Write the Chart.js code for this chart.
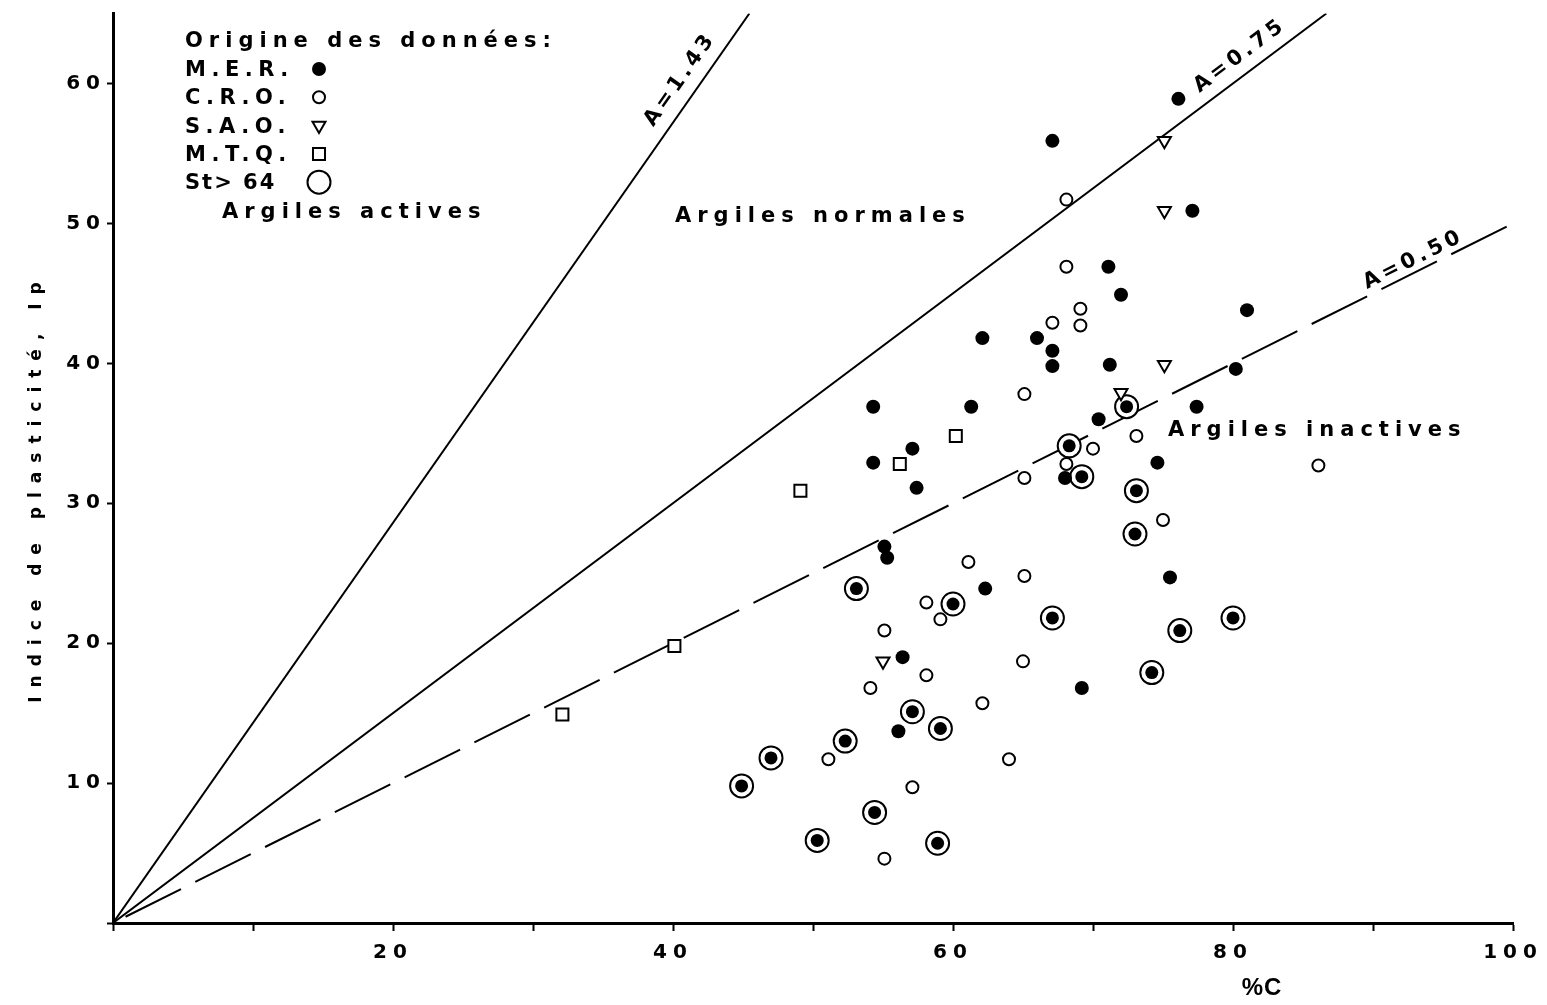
<!DOCTYPE html>
<html lang="fr">
<head>
<meta charset="utf-8">
<title>Indice de plasticité en fonction de %C</title>
<script src="https://cdn.jsdelivr.net/npm/chart.js@4.4.1/dist/chart.umd.min.js"></script>
<style>
  html, body { margin: 0; padding: 0; background: #fff; }
  #wrap { position: relative; width: 1547px; height: 1005px; }
</style>
</head>
<body>
<div id="wrap"><canvas id="chart"></canvas></div>
<script>
// --- data (x = %C, y = Ip) ---

// M.E.R. (filled dots)
const merX = [67.1, 76.1, 77.1, 71.1, 72.0, 81.0, 62.1, 66.0, 67.1, 67.1, 71.2, 80.2, 54.3, 61.3, 77.4, 70.4, 57.1, 54.3, 74.6, 57.4, 68.0, 55.1, 55.3, 75.5, 62.3, 56.4, 69.2, 56.1];
const merY = [55.9, 58.9, 50.9, 46.9, 44.9, 43.8, 41.8, 41.8, 40.9, 39.8, 39.9, 39.6, 36.9, 36.9, 36.9, 36.0, 33.9, 32.9, 32.9, 31.1, 31.8, 26.9, 26.1, 24.7, 23.9, 19.0, 16.8, 13.7];

// M.E.R. samples with St > 64 (ringed dots)
const stX = [72.4, 68.3, 69.2, 73.1, 73.0, 53.1, 60.0, 67.1, 76.2, 80.0, 74.2, 57.1, 59.1, 47.0, 52.3, 44.9, 54.4, 50.3, 58.9];
const stY = [36.9, 34.1, 31.9, 30.9, 27.8, 23.9, 22.8, 21.8, 20.9, 21.8, 17.9, 15.1, 13.9, 11.8, 13.0, 9.8, 7.9, 5.9, 5.7];

// C.R.O. (open circles)
const croX = [68.1, 68.1, 69.1, 69.1, 67.1, 65.1, 73.1, 70.0, 68.1, 65.1, 86.1, 75.0, 61.1, 65.1, 58.1, 59.1, 55.1, 65.0, 58.1, 54.1, 62.1, 51.1, 64.0, 57.1, 55.1];
const croY = [51.7, 46.9, 43.9, 42.7, 42.9, 37.8, 34.8, 33.9, 32.8, 31.8, 32.7, 28.8, 25.8, 24.8, 22.9, 21.7, 20.9, 18.7, 17.7, 16.8, 15.7, 11.7, 11.7, 9.7, 4.6];

// S.A.O. (open triangles)
const saoX = [75.1, 75.1, 75.1, 72.0, 55.0];
const saoY = [55.9, 50.9, 39.9, 37.9, 18.7];

// M.T.Q. (open squares)
const mtqX = [49.1, 60.2, 56.2, 40.1, 32.1];
const mtqY = [30.9, 34.8, 32.8, 19.8, 14.9];

// activity lines Ip = A * %C
const slopes = [1.43, 0.75, 0.50];
const slopeLabels = ['A=1.43', 'A=0.75', 'A=0.50'];

const xTickLabels = [20, 40, 60, 80, 100];
const yTickLabels = [10, 20, 30, 40, 50, 60];
const legendLabels = ['M.E.R.', 'C.R.O.', 'S.A.O.', 'M.T.Q.', 'St> 64'];
const zoneLabels = ['Argiles actives', 'Argiles normales', 'Argiles inactives'];

// --- styling ---
const X_MAX = 100, Y_MAX = 65;
const FONT = '"DejaVu Sans", "Liberation Sans", sans-serif';

const markers = {
    mer:  { pointStyle: 'circle',   radius: 7,    rotation: 0,   borderWidth: 0, fill: '#000' },
    cro:  { pointStyle: 'circle',   radius: 6,    rotation: 0,   borderWidth: 2, fill: '#fff' },
    sao:  { pointStyle: 'triangle', radius: 7.5,  rotation: 180, borderWidth: 2, fill: '#fff' },
    mtq:  { pointStyle: 'rect',     radius: 8.5,  rotation: 0,   borderWidth: 2, fill: '#fff' },
    st:   { pointStyle: 'circle',   radius: 11.5, rotation: 0,   borderWidth: 2, fill: '#fff' }
};
const legendOrder = ['mer', 'cro', 'sao', 'mtq', 'st'];

// where the label sits along each line (in %C) and how far above it
const slopeLabelPos = [ { at: 41.5, off: 19 }, { at: 81.1, off: 18 }, { at: 93.1, off: 12 } ];
const zoneLabelPos = [ { x: 222, y: 218 }, { x: 675, y: 222 }, { x: 1168, y: 436 } ];

const pts = (xs, ys) => xs.map((v, i) => ({ x: v, y: ys[i] }));

function lineData(a) {
    const xEnd = Math.min(X_MAX, Y_MAX / a);
    return [{ x: 0, y: 0 }, { x: xEnd, y: a * xEnd }];
}

function scatterSet(label, data, m, order) {
    return {
        label, data, order,
        pointStyle: m.pointStyle,
        pointRadius: m.radius,
        pointHoverRadius: m.radius,
        pointRotation: m.rotation,
        pointBorderWidth: m.borderWidth,
        pointHoverBorderWidth: m.borderWidth,
        pointBackgroundColor: m.fill,
        pointBorderColor: '#000'
    };
}

const lineSets = slopes.map((a, i) => ({
    label: slopeLabels[i],
    data: lineData(a),
    showLine: true,
    borderColor: '#000',
    borderWidth: 2,
    borderDash: i === 2 ? [62, 16] : [],
    borderDashOffset: i === 2 ? 64 : 0,
    pointRadius: 0,
    pointHoverRadius: 0,
    order: 10
}));

function spaced(ctx, str, x, y, size, ls, align) {
    ctx.font = 'bold ' + size + 'px ' + FONT;
    ctx.letterSpacing = ls + 'px';
    ctx.textAlign = align || 'left';
    ctx.fillText(str, x, y);
}

function drawMarker(ctx, m, x, y) {
    ctx.save();
    ctx.fillStyle = m.fill;
    ctx.strokeStyle = '#000';
    ctx.lineWidth = m.borderWidth;
    Chart.helpers.drawPoint(ctx, { pointStyle: m.pointStyle, radius: m.radius, rotation: m.rotation, borderWidth: m.borderWidth }, x, y);
    ctx.restore();
}

// texts, legend block and line labels
const annotations = {
    id: 'annotations',
    beforeDraw(chart) {
        chart.ctx.letterSpacing = '6px'; // wide tick labels like the original
    },
    afterDatasetsDraw(chart) {
        const { ctx } = chart;
        const xs = chart.scales.x, ys = chart.scales.y;
        ctx.save();
        ctx.fillStyle = '#000';
        ctx.textBaseline = 'alphabetic';

        // legend
        spaced(ctx, 'Origine des données:', 185, 47, 21, 6);
        legendLabels.forEach((lab, i) => {
            const base = 76 + i * 28.3;
            spaced(ctx, lab, 185, base, 21, i === 4 ? 2 : 5.5);
            drawMarker(ctx, markers[legendOrder[i]], 319, base - 7);
        });

        // zone names
        zoneLabels.forEach((lab, i) => {
            ctx.fillStyle = '#000';
            spaced(ctx, lab, zoneLabelPos[i].x, zoneLabelPos[i].y, 21, 6);
        });

        // labels along the activity lines
        slopes.forEach((a, i) => {
            const p = slopeLabelPos[i];
            const px = xs.getPixelForValue(p.at), py = ys.getPixelForValue(a * p.at);
            const ang = Math.atan2(ys.getPixelForValue(a * X_MAX) - ys.getPixelForValue(0),
                                   xs.getPixelForValue(X_MAX) - xs.getPixelForValue(0));
            ctx.save();
            ctx.translate(px, py);
            ctx.rotate(ang);
            ctx.textBaseline = 'middle';
            spaced(ctx, slopeLabels[i], 3, -p.off, 21, 4, 'center');
            ctx.restore();
        });

        // axis titles
        ctx.save();
        ctx.translate(37, 492);
        ctx.rotate(-Math.PI / 2);
        ctx.textBaseline = 'middle';
        spaced(ctx, 'Indice de plasticité, Ip', 4, 0, 17, 9, 'center');
        ctx.restore();

        ctx.textBaseline = 'middle';
        ctx.font = 'bold 24px "Liberation Sans Narrow", "Liberation Sans", sans-serif';
        ctx.letterSpacing = '1px';
        ctx.textAlign = 'center';
        ctx.fillText('%C', 1262, 988);

        ctx.restore();
    }
};

new Chart(document.getElementById('chart'), {
    type: 'scatter',
    data: {
        datasets: [
            ...lineSets,
            scatterSet('St > 64', pts(stX, stY), markers.st, 5),
            scatterSet('M.E.R. St > 64', pts(stX, stY), { ...markers.mer, radius: 6.5 }, 1),
            scatterSet('M.E.R.', pts(merX, merY), markers.mer, 1),
            scatterSet('C.R.O.', pts(croX, croY), markers.cro, 2),
            scatterSet('S.A.O.', pts(saoX, saoY), markers.sao, 2),
            scatterSet('M.T.Q.', pts(mtqX, mtqY), markers.mtq, 2)
        ]
    },
    options: {
        responsive: true,
        maintainAspectRatio: false,
        animation: false,
        devicePixelRatio: 1,
        layout: { padding: { top: 13, right: 34, bottom: 0, left: 0 } },
        plugins: {
            legend: { display: false },
            tooltip: { enabled: false }
        },
        scales: {
            x: {
                type: 'linear',
                min: 0,
                max: X_MAX,
                afterFit: (s) => { s.height = 82; },
                border: { display: true, color: '#000', width: 3 },
                grid: { drawOnChartArea: false, drawTicks: true, tickLength: 8, tickWidth: 2, tickColor: '#000' },
                ticks: {
                    stepSize: 10,
                    autoSkip: false,
                    maxRotation: 0,
                    padding: 10,
                    color: '#000',
                    font: { family: FONT, size: 20, weight: 'bold' },
                    callback: (v) => xTickLabels.includes(v) ? String(v) : ''
                }
            },
            y: {
                type: 'linear',
                min: 0,
                max: Y_MAX,
                afterFit: (s) => { s.width = 113; },
                border: { display: true, color: '#000', width: 3 },
                grid: { drawOnChartArea: false, drawTicks: true, tickLength: 6, tickWidth: 2, tickColor: '#000' },
                ticks: {
                    stepSize: 10,
                    includeBounds: false,
                    padding: 1,
                    color: '#000',
                    font: { family: FONT, size: 20, weight: 'bold' },
                    callback: (v) => yTickLabels.includes(v) ? String(v) : ''
                }
            }
        }
    },
    plugins: [annotations]
});
</script>
</body>
</html>
